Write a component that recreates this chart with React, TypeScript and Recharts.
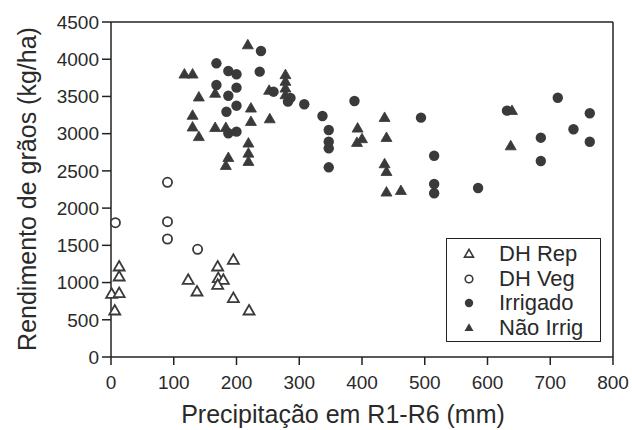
import React from 'react';
import { ScatterChart, Scatter, XAxis, YAxis, ReferenceLine } from 'recharts';

// ---- data (x: precipitação mm, y: rendimento kg/ha) ----
const xTicks = [0, 100, 200, 300, 400, 500, 600, 700, 800];
const yTicks = [0, 500, 1000, 1500, 2000, 2500, 3000, 3500, 4000, 4500];

const dhRepX = [13, 13, 1, 13, 6, 170, 195, 123, 137, 171, 179, 170, 195, 220];
const dhRepY = [1213, 1079, 846, 856, 622, 1213, 1303, 1034, 877, 1057, 1034, 967, 789, 622];

const dhVegX = [90, 7, 90, 90, 138];
const dhVegY = [2347, 1804, 1818, 1585, 1447];

const irrigX = [239, 168, 187, 200, 237, 168, 200, 187, 259, 282, 200, 184, 200, 187, 308, 388, 337, 347, 347, 347, 347, 494, 515, 515, 515, 585, 631, 685, 685, 712, 737, 763, 763, 286];
const irrigY = [4111, 3945, 3842, 3798, 3833, 3654, 3618, 3510, 3564, 3430, 3376, 3295, 3027, 3005, 3395, 3439, 3237, 3049, 2892, 2804, 2548, 3215, 2704, 2324, 2199, 2270, 3309, 2946, 2633, 3483, 3059, 3274, 2892, 3480];

const naoX = [218, 117, 130, 140, 130, 130, 140, 166, 183, 223, 223, 253, 187, 183, 219, 219, 219, 278, 278, 278, 278, 166, 252, 436, 393, 400, 392, 439, 436, 439, 439, 462, 639, 637];
const naoY = [4191, 3798, 3798, 3490, 3244, 3087, 2958, 3080, 3080, 3341, 3161, 3197, 2677, 2570, 2871, 2736, 2624, 3790, 3700, 3610, 3520, 3540, 3580, 3215, 3072, 2930, 2880, 2946, 2593, 2489, 2213, 2234, 3309, 2834];

const legendLabels = ['DH Rep', 'DH Veg', 'Irrigado', 'Não Irrig'];

const zip = (xs: number[], ys: number[]) => xs.map((x, i) => ({ x, y: ys[i] }));
const dhRep = zip(dhRepX, dhRepY);
const dhVeg = zip(dhVegX, dhVegY);
const irrig = zip(irrigX, irrigY);
const nao = zip(naoX, naoY);

const INK = '#3a3a3a';
const FONT = '"Liberation Sans", Arial, Helvetica, sans-serif';

const triPath = (cx: number, cy: number, s: number) => {
  const h = s * 0.866;
  return `M${cx},${cy - h * 0.6}L${cx + s / 2},${cy + h * 0.4}L${cx - s / 2},${cy + h * 0.4}Z`;
};

const OpenTri = (p: any) => <path d={triPath(p.cx, p.cy, 11)} fill="#fff" stroke={INK} strokeWidth={1.8} strokeLinejoin="miter" />;
const FillTri = (p: any) => <path d={triPath(p.cx, p.cy, 11)} fill={INK} stroke={INK} strokeWidth={0.8} />;
const OpenCirc = (p: any) => <circle cx={p.cx} cy={p.cy} r={4.6} fill="#fff" stroke={INK} strokeWidth={1.8} />;
const FillCirc = (p: any) => <circle cx={p.cx} cy={p.cy} r={5.2} fill={INK} />;

const LegendBox = () => {
  const syms = [
    <path d={triPath(8, 9, 9)} fill="#fff" stroke={INK} strokeWidth={1.6} />,
    <circle cx={8} cy={9} r={3.8} fill="#fff" stroke={INK} strokeWidth={1.6} />,
    <circle cx={8} cy={9} r={4.2} fill={INK} />,
    <path d={triPath(8, 9, 9)} fill={INK} />,
  ];
  return (
    <div style={{ position: 'absolute', left: 446, top: 238, border: '1.6px solid #222', width: 155, height: 104, boxSizing: 'border-box', padding: '3px 0 0 14px', background: '#fff' }}>
      {legendLabels.map((l, i) => (
        <div key={l} style={{ display: 'flex', alignItems: 'center', height: 24.5 }}>
          <svg width={18} height={18} style={{ marginRight: 20 }}>{syms[i]}</svg>
          <span style={{ fontFamily: FONT, fontSize: 22, color: '#2a2a2a', lineHeight: '22px' }}>{l}</span>
        </div>
      ))}
    </div>
  );
};

const tickStyle = { fontFamily: FONT, fontSize: 19, fill: '#2a2a2a' };

export default function App() {
  return (
    <div style={{ position: 'absolute', left: 0, top: 0, width: 632, height: 430, background: '#fff' }}>
      <ScatterChart width={632} height={430} margin={{ top: 22, right: 19, bottom: 0, left: 0 }}>
        <XAxis
          type="number"
          dataKey="x"
          domain={[0, 800]}
          ticks={xTicks}
          interval={0}
          height={73}
          tick={tickStyle}
          tickSize={8}
          tickMargin={11}
          stroke="#222"
          strokeWidth={1.5}
          label={{
            content: () => (
              <text x={343} y={423} textAnchor="middle" style={{ fontFamily: FONT, fontSize: 25, fill: '#2a2a2a' }}>
                Precipitação em R1-R6 (mm)
              </text>
            ),
          }}
        />
        <YAxis
          type="number"
          dataKey="y"
          domain={[0, 4500]}
          ticks={yTicks}
          interval={0}
          width={111}
          tick={tickStyle}
          tickSize={9}
          tickMargin={3}
          stroke="#222"
          strokeWidth={1.5}
          label={{
            content: () => (
              <text x={36} y={189} textAnchor="middle" transform="rotate(-90 36 189)" style={{ fontFamily: FONT, fontSize: 25, fill: '#2a2a2a' }}>
                Rendimento de grãos (kg/ha)
              </text>
            ),
          }}
        />
        <ReferenceLine y={4500} stroke="#222" strokeWidth={1.5} ifOverflow="visible" />
        <ReferenceLine x={800} stroke="#222" strokeWidth={1.5} ifOverflow="visible" />
        <Scatter name="DH Rep" data={dhRep} shape={OpenTri} isAnimationActive={false} />
        <Scatter name="DH Veg" data={dhVeg} shape={OpenCirc} isAnimationActive={false} />
        <Scatter name="Irrigado" data={irrig} shape={FillCirc} isAnimationActive={false} />
        <Scatter name="Não Irrig" data={nao} shape={FillTri} isAnimationActive={false} />
      </ScatterChart>
      <LegendBox />
    </div>
  );
}
